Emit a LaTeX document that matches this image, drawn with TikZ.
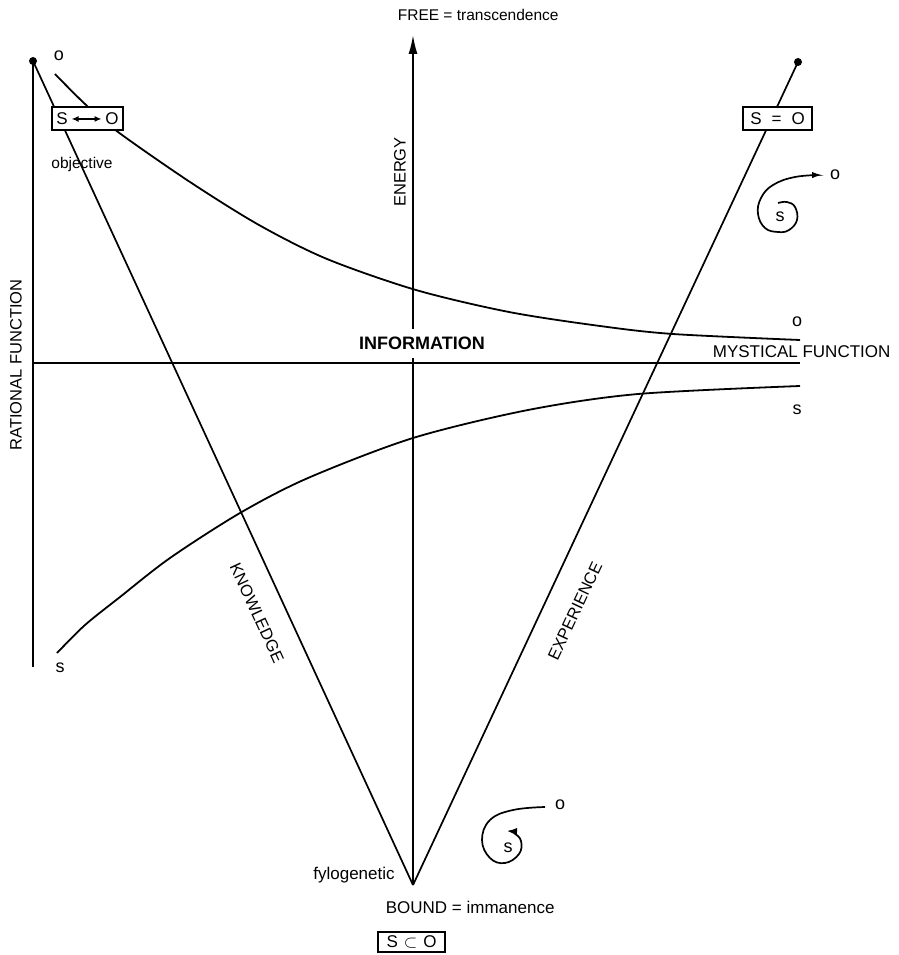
\documentclass[tikz,border=0pt]{standalone}
\usepackage{fontspec}
\setmainfont{Liberation Sans}
\usetikzlibrary{arrows.meta}
\begin{document}
\begin{tikzpicture}[x=1pt,y=-1pt,line width=1.7pt,
  lbl/.style={inner sep=0pt,font=\fontsize{16.5}{18}\selectfont},
  sml/.style={inner sep=0pt,font=\fontsize{15.5}{17}\selectfont},
  oslbl/.style={inner sep=0pt,font=\fontsize{18}{20}\selectfont},
  boxnode/.style={draw,fill=white,line width=1.5pt,minimum height=23pt,inner xsep=4pt,inner ysep=0pt,font=\fontsize{17}{18}\selectfont},
  dotnode/.style={circle,fill=black,inner sep=0pt,minimum size=8pt},
  curve/.style={line width=1.8pt},
  spiral/.style={line width=1.7pt,-{Latex[length=10pt,width=6.5pt]}}]
\useasboundingbox (0,0) rectangle (898,955);
% key points
\node[dotnode] (dl) at (33,61) {};
\node[dotnode] (dr) at (798,62) {};
\coordinate (V) at (413,885);
\coordinate (lb) at (33,667);
\coordinate (h1) at (33,363);
\coordinate (h2) at (800,363);
\coordinate (top) at (413,35);
% axes and diagonals
\draw (dl.center) -- (lb);
\draw (dl.center) -- (V);
\draw (V) -- (dr.center);
\draw (h1) -- (h2);
\draw[-{Latex[length=19pt,width=9pt]}] (V) -- (top);
% curves
\draw[curve] plot[smooth,tension=0.5] coordinates {(55,74) (85,104) (118,132) (190,182) (259,225) (327,259) (416,290) (509,312) (600,326) (673,334) (800,340)};
\draw[curve] plot[smooth,tension=0.5] coordinates {(57,653) (85,625) (120,597) (170,558) (240,513) (308,478) (413,438) (528,410) (638,394) (800,386)};
% spirals
\draw[spiral] plot[smooth,tension=0.7] coordinates {(778,203) (787,202) (795,207) (797,220) (789,230) (778,232) (765,228) (758,214) (761,198) (773,185) (795,177) (822,175)};
\draw[spiral] plot[smooth,tension=0.7] coordinates {(545,807) (513,810) (490,820) (482,840) (490,858) (505,863) (519,854) (521,841) (514,833) (507,831)};
% labels
\node[sml,anchor=west] (free) at (397,15) {FREE = transcendence};
\node[lbl,rotate=90] (energy) at (400,172) {ENERGY};
\node[lbl,rotate=90] (rational) at (16,365) {RATIONAL FUNCTION};
\node[inner xsep=2pt,inner ysep=8pt,fill=white,font=\fontsize{18}{20}\selectfont\bfseries] (info) at (422,343.5) {INFORMATION};
\node[lbl,anchor=west,font=\fontsize{17}{19}\selectfont] (myst) at (712,352) {MYSTICAL FUNCTION};
\node[lbl,rotate=-65.2] (know) at (257,613) {KNOWLEDGE};
\node[lbl,rotate=64.9] (exp) at (575,611) {EXPERIENCE};
\node[sml] (objective) at (82,164) {objective};
\node[sml,font=\fontsize{17}{19}\selectfont] (fylo) at (354,875) {fylogenetic};
\node[sml,anchor=west,font=\fontsize{17}{19}\selectfont] (bound) at (385,907) {BOUND = immanence};
% o / s labels
\node[oslbl] (o1) at (59,56) {o};
\node[oslbl] (s1) at (60,668) {s};
\node[oslbl] (o2) at (797,322) {o};
\node[oslbl] (s2) at (797,410) {s};
\node[oslbl] (o3) at (835,175) {o};
\node[oslbl] (s3) at (780,217) {s};
\node[oslbl] (o4) at (560,805) {o};
\node[oslbl] (s4) at (508,848) {s};
% boxes
\node[boxnode,minimum width=71pt] (bso) at (87.5,118.5) {S\hspace{3pt}\tikz[baseline=-0.6ex]\draw[{Latex[length=7pt,width=6pt]}-{Latex[length=7pt,width=6pt]},line width=1.5pt] (0pt,0pt)--(30pt,0pt);\hspace{3pt}O};
\node[boxnode,minimum width=69pt] (beq) at (777.5,118.5) {S\hspace{10pt}=\hspace{10pt}O};
\node[boxnode,minimum width=67pt,minimum height=20pt] (bsub) at (411.5,942) {S\hspace{6pt}$\subset$\hspace{6pt}O};
\end{tikzpicture}
\end{document}
